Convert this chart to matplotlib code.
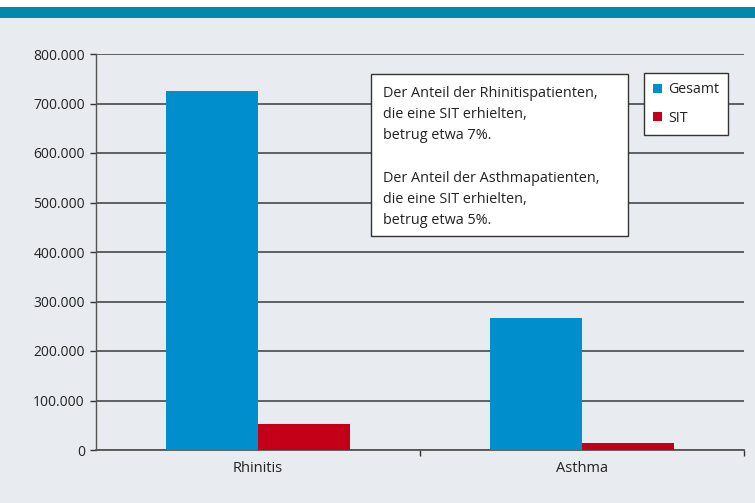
import numpy as np
import matplotlib.pyplot as plt
from matplotlib.patches import Rectangle
from matplotlib.ticker import FuncFormatter

plt.rcParams['font.family'] = ['Open Sans', 'DejaVu Sans']

kategorien = ['Rhinitis', 'Asthma']
gesamt = [726000, 266500]
sit = [52500, 14000]
y_ticks = [0, 100000, 200000, 300000, 400000, 500000, 600000, 700000, 800000]

bg = '#e8ecf0'
blau = '#008fcc'
rot = '#c40018'

fig = plt.figure(figsize=(7.55, 5.03), dpi=100, facecolor=bg)
# weisser Rand oben + tuerkiser Balken
fig.patches.append(Rectangle((0, 1 - 7/503), 1, 7/503, transform=fig.transFigure,
                             facecolor='white', edgecolor='none', zorder=0))
fig.patches.append(Rectangle((0, 1 - 18/503), 1, 11/503, transform=fig.transFigure,
                             facecolor='#0088ad', edgecolor='none', zorder=0))

ax = fig.add_axes([96/755, 1 - 450/503, (744 - 96)/755, (450 - 54)/503])
ax.set_facecolor(bg)

x = np.arange(len(kategorien))
b = 0.285
ax.bar(x - b/2, gesamt, width=b, color=blau, label='Gesamt', zorder=3)
ax.bar(x + b/2, sit, width=b, color=rot, label='SIT', zorder=3)

ax.set_xlim(-0.5, 1.5)
ax.set_ylim(0, 800000)
ax.set_yticks(y_ticks)
ax.yaxis.set_major_formatter(FuncFormatter(lambda v, p: '0' if v == 0 else f'{int(v):,}'.replace(',', '.')))
ax.grid(axis='y', color='#3a3a3a', linewidth=1.1, zorder=1)
ax.set_axisbelow(True)

ax.set_xticks(x)
ax.set_xticklabels(kategorien)
ax.set_xticks([0.5, 1.5], minor=True)
ax.tick_params(axis='x', which='major', length=0, pad=8, labelsize=10.5, colors='#222222')
ax.tick_params(axis='x', which='minor', length=4, width=1, color='#333333', direction='out')
ax.tick_params(axis='y', length=4, width=1, color='#333333', labelsize=10, labelcolor='#222222', pad=4)

for s in ['top', 'right']:
    ax.spines[s].set_visible(False)
ax.spines['left'].set_color('#555555')
ax.spines['bottom'].set_color('#555555')
ax.spines['left'].set_linewidth(1)
ax.spines['bottom'].set_linewidth(1.3)

# Textkasten
txt = ('Der Anteil der Rhinitispatienten,\ndie eine SIT erhielten,\nbetrug etwa 7%.\n\n'
       'Der Anteil der Asthmapatienten,\ndie eine SIT erhielten,\nbetrug etwa 5%.')
fig.patches.append(Rectangle((371/755, 1 - 236/503), 257/755, 162/503, transform=fig.transFigure,
                             facecolor='white', edgecolor='#333333', linewidth=1, zorder=5))
fig.text(383/755, 1 - 86/503, txt, ha='left', va='top', fontsize=10.4, color='#222222',
         linespacing=1.56, zorder=6)

leg = ax.legend(loc='upper left', bbox_to_anchor=((644 - 96)/648, (450 - 73)/396),
                frameon=True, fancybox=False, edgecolor='#333333', framealpha=1,
                handlelength=0.6, handleheight=0.6, handletextpad=0.45, fontsize=10.2,
                labelspacing=0.95, borderpad=0.65, borderaxespad=0)
leg.get_frame().set_linewidth(1)
for t in leg.get_texts():
    t.set_color('#222222')

fig.savefig('out.png', dpi=100, facecolor=bg)
